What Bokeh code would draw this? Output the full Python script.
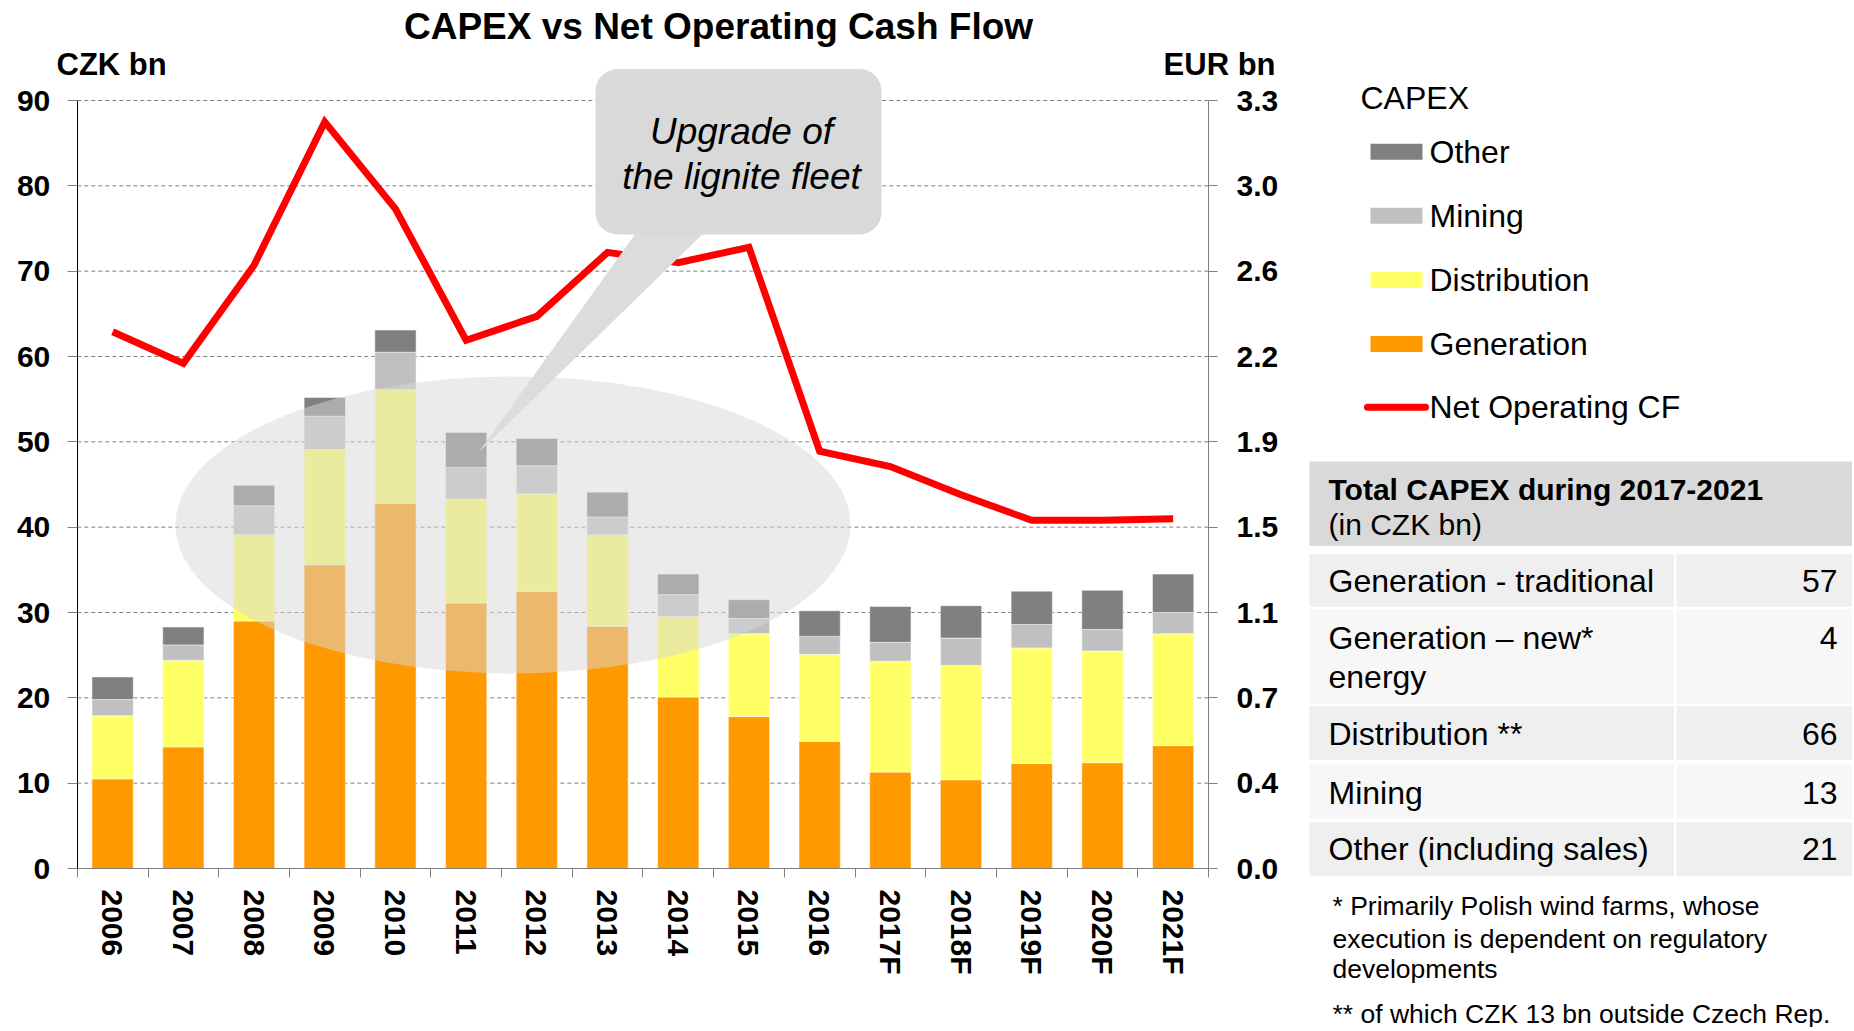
from bokeh.plotting import figure
from bokeh.models import Range1d, LinearAxis, FixedTicker, ColumnDataSource, BoxAnnotation, Label
from bokeh.layouts import row
from bokeh.embed import file_html
from bokeh.resources import INLINE
from bokeh.core.properties import value

# ---------------- data ----------------
years = ["2006", "2007", "2008", "2009", "2010", "2011", "2012", "2013",
         "2014", "2015", "2016", "2017F", "2018F", "2019F", "2020F", "2021F"]
generation = [10.5, 14.25, 29.0, 35.6, 42.8, 31.1, 32.45, 28.4, 20.1, 17.8, 14.9, 11.3, 10.4, 12.3, 12.4, 14.4]
distribution = [7.4, 10.15, 10.1, 13.5, 13.3, 12.2, 11.45, 10.7, 9.4, 9.7, 10.2, 13.0, 13.4, 13.55, 13.1, 13.1]
mining = [1.9, 1.8, 3.4, 3.9, 4.4, 3.7, 3.3, 2.1, 2.6, 1.8, 2.1, 2.2, 3.2, 2.75, 2.5, 2.5]
other = [2.65, 2.1, 2.4, 2.2, 2.6, 4.1, 3.2, 2.9, 2.4, 2.2, 3.0, 4.2, 3.8, 3.9, 4.6, 4.5]
net_operating_cf = [62.9, 59.2, 70.7, 87.5, 77.3, 61.9, 64.7, 72.2, 71.0, 72.8, 48.9, 47.1, 43.8, 40.8, 40.8, 41.0]

czk_ticks = [0, 10, 20, 30, 40, 50, 60, 70, 80, 90]
eur_labels = ["0.0", "0.4", "0.7", "1.1", "1.5", "1.9", "2.2", "2.6", "3.0", "3.3"]

series_names = ["Other", "Mining", "Distribution", "Generation"]
line_name = "Net Operating CF"

table_labels = ["Generation - traditional", "Generation \u2013 new*\nenergy", "Distribution **", "Mining", "Other (including sales)"]
table_values = ["57", "4", "66", "13", "21"]
footnotes = ["* Primarily Polish wind farms, whose", "execution is dependent on regulatory", "developments",
             "** of which CZK 13 bn outside Czech Rep."]

# ---------------- styles / geometry ----------------
C_GEN, C_DIST, C_MIN, C_OTH = "#ff9900", "#ffff66", "#c0c0c0", "#808080"
C_RED = "#ff0000"
FONT = "Liberation Sans"

W1, W2, H = 1300, 552, 1027
AX_L, AX_R, AX_B, AX_T = 76.8, 1208.0, 868.0, 100.0   # pixel positions of axes
n = len(years)
PX_X = (AX_R - AX_L) / n
PX_Y = (AX_B - AX_T) / 90.0

def dx(px):
    return -0.5 + (px - AX_L) / PX_X

def dy(py):
    return (AX_B - py) / PX_Y

p = figure(width=W1, height=H, x_range=Range1d(dx(0), dx(W1)), y_range=Range1d(dy(H), dy(0)),
           output_backend="svg", toolbar_location=None,
           min_border_left=0, min_border_right=0, min_border_top=0, min_border_bottom=0)
p.outline_line_color = None
p.grid.visible = False

idx = list(range(n))
src = ColumnDataSource(dict(x=idx, generation=generation, distribution=distribution, mining=mining, other=other))

# dashed horizontal grid lines between the two axes
p.segment(x0=-0.5, x1=n - 0.5, y0=czk_ticks, y1=czk_ticks, line_color="#808080", line_dash="4 3", line_width=1)

# stacked bars
p.vbar_stack(["generation", "distribution", "mining", "other"], x="x", width=0.584, source=src,
             fill_color=[C_GEN, C_DIST, C_MIN, C_OTH], line_color="#ffffff", line_alpha=0.5, line_width=1)

# highlight ellipse
p.ellipse(x=dx(512.5), y=dy(524.4), width=675 / PX_X, height=297 / PX_Y,
          fill_color="#d8d8d8", fill_alpha=0.5, line_color=None)

# net operating CF line
p.line(x=idx, y=net_operating_cf, line_color=C_RED, line_width=7, line_join="miter")

# callout pointer and bubble
p.patch(x=[dx(643), dx(714), dx(478)], y=[dy(222), dy(222), dy(452)], fill_color="#dcdcdc", line_color=None)
p.add_layout(BoxAnnotation(left=dx(595), right=dx(881), top=dy(68.6), bottom=dy(234),
                           border_radius=22, fill_color="#d9d9d9", fill_alpha=1.0, line_color=None))
for txt, fy in [("Upgrade of", 131), ("the lignite fleet", 176)]:
    p.add_layout(Label(x=dx(741), y=dy(fy), text=txt, text_align="center", text_baseline="middle",
                       text_font=FONT, text_font_style="italic", text_font_size="37px", text_color="black"))

# x axis
xa = p.xaxis[0]
xa.fixed_location = 0
xa.bounds = (-0.5, n - 0.5)
xa.ticker = FixedTicker(ticks=idx, minor_ticks=[i - 0.5 for i in range(n + 1)])
xa.major_label_overrides = {i: y for i, y in zip(idx, years)}
xa.major_tick_out = 0
xa.major_tick_in = 0
xa.minor_tick_out = 9
xa.minor_tick_in = 0
xa.minor_tick_line_color = "#808080"
xa.axis_line_color = "#808080"
xa.major_label_orientation = "vertical"
xa.major_label_standoff = 12
xa.major_label_text_font = FONT
xa.major_label_text_font_style = "bold"
xa.major_label_text_font_size = "30px"
xa.major_label_text_color = "black"

# left y axis (CZK)
ya = p.yaxis[0]
ya.fixed_location = -0.5
ya.ticker = FixedTicker(ticks=czk_ticks, minor_ticks=[])
ya.bounds = (0, 90)
ya.axis_line_color = "black"
ya.major_tick_line_color = "#808080"
ya.major_tick_out = 10
ya.major_tick_in = 0
ya.minor_tick_line_color = None
ya.major_label_standoff = 17
ya.major_label_text_font = FONT
ya.major_label_text_font_style = "bold"
ya.major_label_text_font_size = "30px"
ya.major_label_text_color = "black"

# right y axis (EUR)
ra = LinearAxis(ticker=FixedTicker(ticks=czk_ticks, minor_ticks=[]),
                major_label_overrides={t: lab for t, lab in zip(czk_ticks, eur_labels)})
ra.fixed_location = n - 0.5
ra.bounds = (0, 90)
ra.axis_line_color = "#808080"
ra.major_tick_line_color = "#808080"
ra.major_tick_out = 9
ra.major_tick_in = 0
ra.minor_tick_line_color = None
ra.major_label_standoff = 19
ra.major_label_text_font = FONT
ra.major_label_text_font_style = "bold"
ra.major_label_text_font_size = "30px"
ra.major_label_text_color = "black"
p.add_layout(ra, "right")

# titles
p.add_layout(Label(x=dx(718), y=dy(26), text="CAPEX vs Net Operating Cash Flow", text_align="center",
                   text_baseline="middle", text_font=FONT, text_font_style="bold", text_font_size="37px",
                   text_color="black"))
p.add_layout(Label(x=dx(56), y=dy(64), text="CZK bn", text_align="left", text_baseline="middle",
                   text_font=FONT, text_font_style="bold", text_font_size="31px", text_color="black"))
p.add_layout(Label(x=dx(1275), y=dy(64), text="EUR bn", text_align="right", text_baseline="middle",
                   text_font=FONT, text_font_style="bold", text_font_size="31px", text_color="black"))

# ---------------- side panel: legend + table ----------------
p2 = figure(width=W2, height=H, x_range=Range1d(0, W2), y_range=Range1d(H, 0),
            output_backend="svg", toolbar_location=None, x_axis_location=None, y_axis_location=None,
            min_border_left=0, min_border_right=0, min_border_top=0, min_border_bottom=0)
p2.grid.visible = False
p2.outline_line_color = None

p2.text(x=[60], y=[97.5], text=["CAPEX"], text_font=value(FONT), text_font_size="32px",
        text_baseline="middle", text_align="left", text_color="black")
sw_y = [151.3, 215.3, 279.5, 343.5]
p2.quad(left=70, right=122, top=[y - 8 for y in sw_y], bottom=[y + 8 for y in sw_y],
        fill_color=[C_OTH, C_MIN, C_DIST, C_GEN], line_color=None)
p2.line(x=[67, 125], y=[406.7, 406.7], line_color=C_RED, line_width=7, line_cap="round")
p2.text(x=[129] * 5, y=sw_y + [406.7], text=series_names + [line_name], text_font=value(FONT),
        text_font_size="32px", text_baseline="middle", text_align="left", text_color="black")

# table
p2.quad(left=9, right=W2 + 5, top=461, bottom=545.6, fill_color="#d9d9d9", line_color=None)
p2.text(x=[28], y=[489], text=["Total CAPEX during 2017-2021"], text_font=value(FONT), text_font_style="bold",
        text_font_size="30px", text_baseline="middle", text_color="black")
p2.text(x=[28], y=[524], text=["(in CZK bn)"], text_font=value(FONT),
        text_font_size="30px", text_baseline="middle", text_color="black")

row_tops = [553.7, 608.5, 705.5, 763.0, 821.5]
row_bots = [606.3, 703.3, 759.6, 818.5, 875.2]
row_cols = ["#efefef", "#f7f7f7", "#efefef", "#f7f7f7", "#efefef"]
p2.quad(left=9, right=373.5, top=row_tops, bottom=row_bots, fill_color=row_cols, line_color=None)
p2.quad(left=376, right=W2 + 5, top=row_tops, bottom=row_bots, fill_color=row_cols, line_color=None)

lab_x, lab_y, lab_t = [], [], []
row_text_y = [580.4, 637.0, 733.3, 792.6, 848.1]
for lab, yy in zip(table_labels, row_text_y):
    for k, part in enumerate(lab.split("\n")):
        lab_x.append(28)
        lab_y.append(yy + 39 * k)
        lab_t.append(part)
p2.text(x=lab_x, y=lab_y, text=lab_t, text_font=value(FONT), text_font_size="32px",
        text_baseline="middle", text_align="left", text_color="black")
p2.text(x=[537] * 5, y=row_text_y, text=table_values, text_font=value(FONT), text_font_size="32px",
        text_baseline="middle", text_align="right", text_color="black")

p2.text(x=[32] * 4, y=[905.5, 938.0, 968.5, 1013.0], text=footnotes, text_font=value(FONT),
        text_font_size="26.5px", text_baseline="middle", text_align="left", text_color="black")

layout = row(p, p2)
open("out.html", "w").write(file_html(layout, INLINE))
